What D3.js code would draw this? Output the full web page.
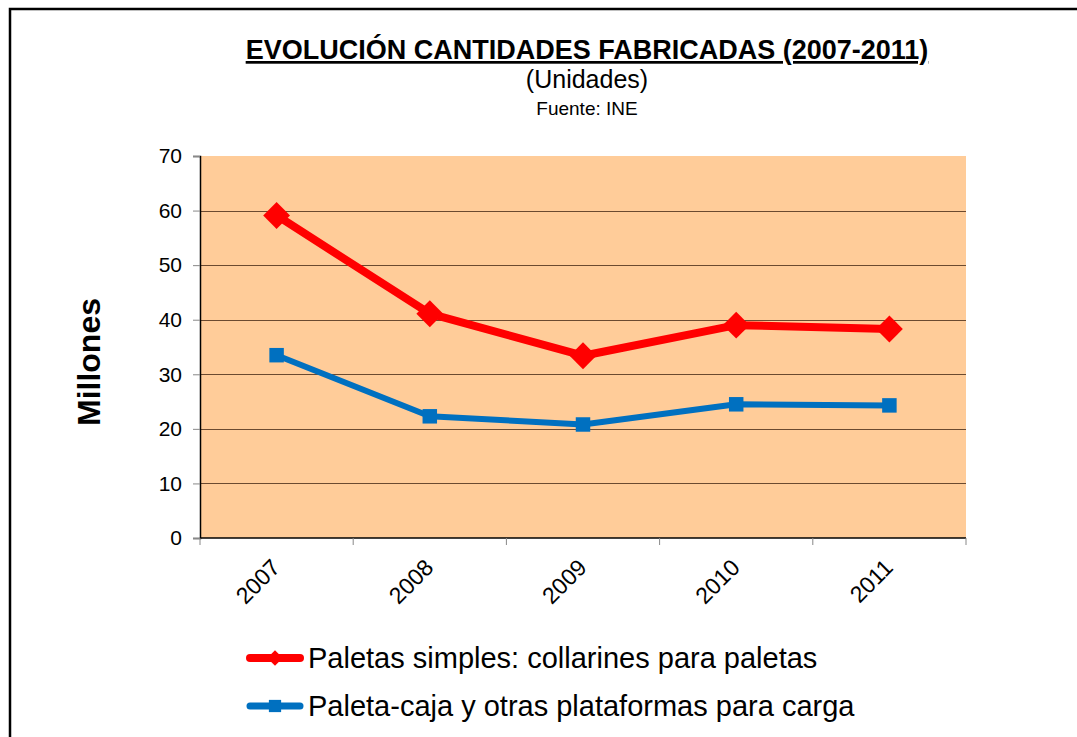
<!DOCTYPE html>
<html>
<head>
<meta charset="utf-8">
<script src="https://cdn.jsdelivr.net/npm/d3@7"></script>
<style>
  body { margin: 0; background: #fff; }
  svg { font-family: Arial, "Liberation Sans", sans-serif; }
</style>
</head>
<body>
<svg id="chart" width="1077" height="737"></svg>
<script>
var years = ["2007", "2008", "2009", "2010", "2011"];
var simples = [59.1, 41.1, 33.4, 39.0, 38.3];
var cajas = [33.5, 22.3, 20.8, 24.5, 24.3];
var yTicks = [0, 10, 20, 30, 40, 50, 60, 70];
var seriesNames = ["Paletas simples: collarines para paletas", "Paleta-caja y otras plataformas para carga"];

var svg = d3.select("#chart");

// outer border (runs off the right/bottom edge like the original)
svg.append("rect")
    .attr("x", 10).attr("y", 9)
    .attr("width", 1080).attr("height", 740)
    .attr("fill", "none").attr("stroke", "#000").attr("stroke-width", 2.5);

var plot = { left: 200, top: 156, right: 966, bottom: 538 };

var x = d3.scaleBand().domain(years).range([plot.left, plot.right]);
var y = d3.scaleLinear().domain([0, 70]).range([plot.bottom, plot.top]);

svg.append("rect")
    .attr("x", plot.left).attr("y", plot.top)
    .attr("width", plot.right - plot.left).attr("height", plot.bottom - plot.top)
    .attr("fill", "#FFCC99");

// gridlines
svg.append("g").selectAll("line")
    .data(yTicks.filter(function(d) { return d > 0 && d < 70; }))
    .enter().append("line")
    .attr("x1", plot.left).attr("x2", plot.right)
    .attr("y1", function(d) { return Math.round(y(d)) + 0.5; })
    .attr("y2", function(d) { return Math.round(y(d)) + 0.5; })
    .attr("stroke", "#6b4a30").attr("stroke-width", 1);

// y axis
var yAxis = svg.append("g")
    .attr("transform", "translate(" + plot.left + ",0)")
    .call(d3.axisLeft(y).tickValues(yTicks).tickSize(7).tickPadding(11));
yAxis.select(".domain").attr("stroke", "#000").attr("stroke-width", 1.5);
yAxis.selectAll(".tick line").attr("stroke", "#888");
yAxis.selectAll("text").attr("font-size", 21).attr("font-family", "Arial, 'Liberation Sans', sans-serif").attr("fill", "#000");

// x axis with ticks between categories
var xAxis = svg.append("g")
    .attr("transform", "translate(0," + plot.bottom + ")");
xAxis.append("line")
    .attr("x1", plot.left).attr("x2", plot.right)
    .attr("stroke", "#000").attr("stroke-width", 1.5);
xAxis.selectAll("line.tk")
    .data(years.concat(["end"]))
    .enter().append("line").attr("class", "tk")
    .attr("x1", function(d, i) { return plot.left + i * x.bandwidth(); })
    .attr("x2", function(d, i) { return plot.left + i * x.bandwidth(); })
    .attr("y1", 0).attr("y2", 7)
    .attr("stroke", "#888");
xAxis.selectAll("text")
    .data(years)
    .enter().append("text")
    .attr("transform", function(d) {
        return "translate(" + (x(d) + x.bandwidth() / 2 + 5) + ",31) rotate(-45)";
    })
    .attr("text-anchor", "end")
    .attr("font-size", 23)
    .text(function(d) { return d; });

// lines
var line = d3.line()
    .x(function(d, i) { return x(years[i]) + x.bandwidth() / 2; })
    .y(function(d) { return y(d); });

svg.append("path").datum(simples)
    .attr("d", line).attr("fill", "none")
    .attr("stroke", "#FF0000").attr("stroke-width", 8).attr("stroke-linejoin", "round");
svg.append("path").datum(cajas)
    .attr("d", line).attr("fill", "none")
    .attr("stroke", "#0070C0").attr("stroke-width", 6).attr("stroke-linejoin", "round");

var diamond = d3.symbol().type(d3.symbolSquare).size(360);
svg.append("g").selectAll("path")
    .data(simples).enter().append("path")
    .attr("d", diamond)
    .attr("transform", function(d, i) {
        return "translate(" + (x(years[i]) + x.bandwidth() / 2) + "," + y(d) + ") rotate(45)";
    })
    .attr("fill", "#FF0000");

var square = d3.symbol().type(d3.symbolSquare).size(210);
svg.append("g").selectAll("path")
    .data(cajas).enter().append("path")
    .attr("d", square)
    .attr("transform", function(d, i) {
        return "translate(" + (x(years[i]) + x.bandwidth() / 2) + "," + y(d) + ")";
    })
    .attr("fill", "#0070C0");

// titles
svg.append("text")
    .attr("x", 587).attr("y", 59)
    .attr("text-anchor", "middle")
    .attr("font-size", 27).attr("font-weight", "bold")
    .attr("text-decoration", "underline")
    .text("EVOLUCIÓN CANTIDADES FABRICADAS (2007-2011)");
svg.append("text")
    .attr("x", 587).attr("y", 88)
    .attr("text-anchor", "middle")
    .attr("font-size", 25)
    .text("(Unidades)");
svg.append("text")
    .attr("x", 587).attr("y", 115)
    .attr("text-anchor", "middle")
    .attr("font-size", 19)
    .text("Fuente: INE");

svg.append("text")
    .attr("transform", "translate(100,362) rotate(-90)")
    .attr("text-anchor", "middle")
    .attr("font-size", 32).attr("font-weight", "bold")
    .text("Millones");

// legend
var legendColors = ["#FF0000", "#0070C0"];
var legend = svg.append("g").selectAll("g")
    .data(seriesNames).enter().append("g")
    .attr("transform", function(d, i) { return "translate(0," + (658 + i * 48) + ")"; });
legend.append("line")
    .attr("x1", 250).attr("x2", 300)
    .attr("stroke", function(d, i) { return legendColors[i]; })
    .attr("stroke-width", function(d, i) { return i === 0 ? 8 : 7; })
    .attr("stroke-linecap", "round");
legend.append("path")
    .attr("d", function(d, i) { return i === 0 ? d3.symbol().type(d3.symbolSquare).size(120)() : d3.symbol().type(d3.symbolSquare).size(150)(); })
    .attr("transform", function(d, i) { return "translate(275,0)" + (i === 0 ? " rotate(45)" : ""); })
    .attr("fill", function(d, i) { return legendColors[i]; });
legend.append("text")
    .attr("x", 308).attr("y", 10)
    .attr("font-size", 29)
    .text(function(d) { return d; });
</script>
</body>
</html>
